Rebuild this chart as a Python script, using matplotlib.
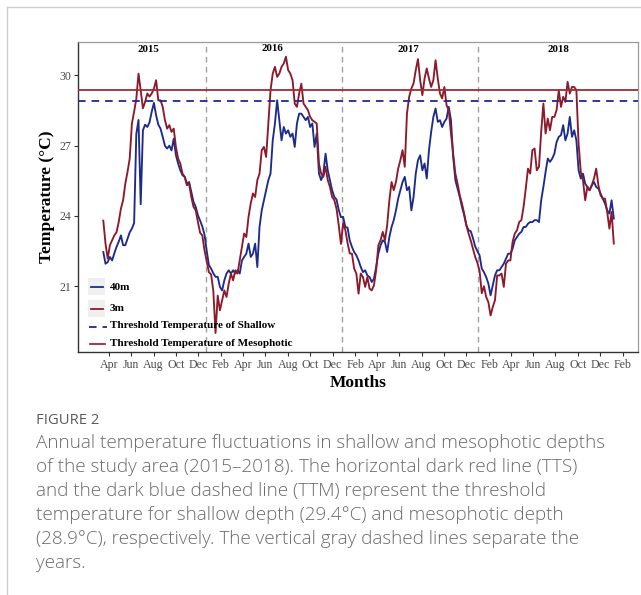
import matplotlib
matplotlib.use('Agg')
import matplotlib.pyplot as plt
import pandas as pd
from matplotlib.patches import Rectangle
from matplotlib.lines import Line2D

# ---------------- data (6-day sampling) ----------------
start_date = '2015-03-17'
step_days = 6

temp_40m = [
    22.46, 21.96, 22.03, 22.25, 22.10, 22.40, 22.68, 22.90, 23.17, 22.75,
    22.75, 23.03, 23.30, 23.46, 23.70, 27.50, 28.10, 24.50, 27.66, 27.90,
    27.80, 28.00, 28.45, 28.83, 28.30, 27.90, 27.73, 27.38, 27.00, 26.88,
    27.00, 26.80, 27.30, 26.60, 26.24, 25.95, 25.74, 25.67, 25.38, 25.45,
    25.03, 24.60, 24.39, 24.03, 23.80, 23.55, 23.20, 22.50, 21.90, 21.75,
    21.55, 21.40, 21.40, 20.97, 20.82, 21.25, 21.54, 21.68, 21.54, 21.68,
    21.54, 21.68, 21.54, 22.10, 22.25, 22.39, 22.82, 22.25, 22.39, 22.82,
    21.82, 23.53, 24.24, 24.67, 25.10, 25.53, 25.81, 27.23, 27.95, 28.94,
    28.09, 27.23, 27.80, 27.52, 27.66, 27.38, 27.52, 26.95, 27.95, 28.37,
    28.37, 28.23, 28.09, 28.23, 27.80, 27.95, 26.95, 27.52, 25.81, 25.53,
    25.81, 26.66, 25.95, 25.53, 25.10, 24.81, 24.70, 24.25, 23.95, 23.96,
    23.53, 23.50, 22.95, 22.68, 22.46, 22.32, 22.10, 21.82, 21.60, 21.68,
    21.46, 21.39, 21.18, 21.32, 21.82, 22.39, 22.75, 22.96, 22.89, 22.46,
    23.10, 23.53, 23.82, 24.24, 24.74, 25.10, 25.45, 25.67, 25.10, 25.24,
    24.24, 24.81, 25.81, 26.38, 26.59, 25.95, 26.24, 25.60, 26.81, 27.59,
    28.23, 28.59, 28.02, 28.09, 27.80, 28.02, 28.16, 28.66, 28.09, 26.52,
    25.53, 25.17, 24.81, 24.39, 24.03, 23.60, 23.39, 23.35, 23.05, 22.70,
    22.50, 22.32, 21.75, 21.60, 21.39, 21.11, 20.61, 21.04, 21.46, 21.68,
    21.68, 21.82, 21.96, 22.18, 22.39, 22.39, 22.60, 22.96, 23.10, 23.24,
    23.32, 23.53, 23.53, 23.67, 23.74, 23.74, 23.82, 23.82, 23.74, 24.67,
    25.24, 25.88, 26.45, 26.31, 26.45, 26.66, 27.16, 27.38, 27.45, 27.88,
    27.23, 27.52, 28.23, 27.38, 27.66, 27.23, 25.95, 25.60, 25.81, 25.38,
    25.24, 25.10, 25.31, 25.45, 25.24, 25.17, 24.95, 24.74, 24.53, 24.24,
    24.10, 24.67, 23.89,
]

temp_3m = [
    23.80, 22.82, 22.18, 22.75, 22.96, 23.17, 23.30, 23.74, 24.31, 24.67,
    25.38, 25.88, 26.45, 27.95, 28.45, 29.00, 30.08, 29.37, 28.60, 28.87,
    29.23, 29.10, 29.23, 29.44, 29.80, 28.94, 28.94, 28.66, 28.10, 27.73,
    27.88, 27.59, 27.73, 26.95, 26.45, 26.24, 25.81, 25.67, 25.31, 25.38,
    24.81, 24.39, 24.24, 23.74, 23.28, 23.17, 22.53, 22.06, 21.60, 21.50,
    20.80, 19.00, 20.60, 19.97, 20.40, 20.82, 20.54, 21.11, 21.54, 21.25,
    21.68, 21.54, 22.10, 22.68, 23.25, 23.10, 23.96, 24.53, 24.96, 24.81,
    25.53, 25.81, 26.81, 26.95, 26.52, 27.95, 29.37, 30.08, 30.37, 29.94,
    30.08, 30.37, 30.51, 30.80, 30.23, 30.08, 29.80, 28.80, 28.66, 29.23,
    29.65, 28.80, 28.66, 28.52, 28.23, 28.09, 28.02, 27.95, 26.24, 25.81,
    25.67, 26.10, 25.53, 25.24, 24.81, 24.67, 24.30, 23.60, 22.80, 23.70,
    23.40, 22.85, 22.40, 22.39, 21.75, 21.54, 20.68, 21.54, 21.39, 20.97,
    21.39, 20.90, 20.82, 21.04, 21.68, 22.75, 22.96, 23.32, 22.96, 23.60,
    24.67, 25.45, 25.10, 25.45, 26.02, 26.38, 26.81, 26.10, 28.37, 29.09,
    29.44, 29.66, 30.23, 30.70, 29.80, 29.16, 29.87, 30.30, 29.87, 29.51,
    29.80, 30.65, 29.87, 29.23, 29.02, 29.51, 28.73, 28.52, 27.52, 26.66,
    25.81, 25.38, 24.88, 24.53, 24.10, 23.60, 23.25, 22.95, 22.60, 22.25,
    22.00, 21.65, 20.70, 21.00, 20.54, 20.32, 19.75, 20.11, 20.40, 21.46,
    21.46, 21.54, 20.97, 21.96, 22.10, 22.10, 22.89, 23.25, 23.39, 23.74,
    23.82, 24.39, 25.17, 26.02, 25.81, 26.81, 26.88, 25.95, 26.10, 27.59,
    28.80, 27.52, 28.16, 27.66, 28.23, 28.23, 28.52, 29.37, 28.66, 29.09,
    28.87, 29.73, 29.23, 29.51, 29.51, 29.37, 27.09, 25.88, 25.53, 24.67,
    25.24, 25.10, 25.31, 25.60, 26.02, 25.31, 24.88, 24.74, 24.74, 24.17,
    23.46, 24.17, 22.82,
]

threshold_shallow_legend = 28.9     # blue dashed
threshold_meso_legend = 29.4        # red solid
year_labels = ['2015', '2016', '2017', '2018']
year_label_dates = ['2015-07-17', '2016-06-19', '2017-06-25', '2018-08-08']
year_label_y = [31.12, 31.16, 31.12, 31.12]
year_sep_dates = ['2015-12-21', '2016-12-26', '2018-01-02']
y_ticks = [21, 24, 27, 30]
month_tick_start = '2015-04-01'
month_tick_end = '2019-02-01'
legend_labels = ['40m', '3m', 'Threshold Temperature of Shallow',
                 'Threshold Temperature of Mesophotic']
caption_title = 'FIGURE 2'
caption_lines = [
    'Annual temperature fluctuations in shallow and mesophotic depths',
    'of the study area (2015\u20132018). The horizontal dark red line (TTS)',
    'and the dark blue dashed line (TTM) represent the threshold',
    'temperature for shallow depth (29.4\u00b0C) and mesophotic depth',
    '(28.9\u00b0C), respectively. The vertical gray dashed lines separate the',
    'years.',
]

# ---------------- styling ----------------
C40 = '#1D2C8C'
C3 = '#8C1A2B'
CTHR_RED = '#9E2B36'
CTHR_BLUE = '#1F2A8A'
SERIF = ['Liberation Serif', 'DejaVu Serif']
SANS = ['Open Sans', 'DejaVu Sans']

W, H = 641, 595
fig = plt.figure(figsize=(W / 100, H / 100), dpi=100)

# outer light frame
fig.add_artist(Line2D([6.5 / W, 1.0], [1 - 6.5 / H, 1 - 6.5 / H], color='#cfcfcf', lw=1.0))
fig.add_artist(Line2D([6.5 / W, 6.5 / W], [0.0, 1 - 6.5 / H], color='#cfcfcf', lw=1.0))

ax = fig.add_axes([78 / W, 1 - 352 / H, 560 / W, 310 / H])

dates = pd.date_range(start_date, periods=len(temp_40m), freq=f'{step_days}D')

ax.plot(dates, temp_40m, color=C40, lw=1.35, zorder=3)
ax.plot(dates, temp_3m, color=C3, lw=1.35, zorder=4)

ax.axhline(threshold_meso_legend, color=CTHR_RED, lw=1.3, zorder=5)
ax.axhline(threshold_shallow_legend, color=CTHR_BLUE, lw=1.3, ls=(0, (4.2, 3.3)), zorder=5)

for d in year_sep_dates:
    ax.axvline(pd.Timestamp(d), color='#a0a0a0', lw=1.0, ls=(0, (4, 3.2)), zorder=2)

for lab, d, yy in zip(year_labels, year_label_dates, year_label_y):
    ax.text(pd.Timestamp(d), yy, lab, ha='center', va='center', fontsize=7.8,
            fontweight='bold', family=SERIF, color='black', zorder=6)

ax.set_xlim(pd.Timestamp('2015-01-07'), pd.Timestamp('2019-03-14'))
ax.set_ylim(18.19, 31.43)

month_ticks = pd.date_range(month_tick_start, month_tick_end, freq='2MS')
ax.set_xticks(month_ticks)
ax.set_xticklabels([m.strftime('%b') for m in month_ticks])
ax.set_yticks(y_ticks)
ax.set_yticklabels([str(v) for v in y_ticks])
ax.tick_params(axis='both', direction='out', length=3, width=0.8, color='#333333',
               labelsize=8.6, labelcolor='#4d4d4d', pad=2)
for lab in ax.get_xticklabels() + ax.get_yticklabels():
    lab.set_family(SERIF)

for side in ['left', 'bottom']:
    ax.spines[side].set_color('#333333')
    ax.spines[side].set_linewidth(1.0)
for side in ['top', 'right']:
    ax.spines[side].set_color('#9a9a9a')
    ax.spines[side].set_linewidth(0.9)

ax.set_ylabel('Temperature (\u00b0C)', fontsize=12.5, fontweight='bold', family=SERIF, labelpad=3)
ax.set_xlabel('Months', fontsize=12.5, fontweight='bold', family=SERIF, labelpad=3)

# ---------------- legend (ggplot style, drawn in axes fraction) ----------------
def fx(px):
    return (px - 78) / 560.0

def fy(py):
    return (352 - py) / 310.0

tr = ax.transAxes
ax.add_patch(Rectangle((fx(88.3), fy(295)), fx(105) - fx(88.3), fy(278) - fy(295),
                       transform=tr, facecolor='#f0f0f0', edgecolor='none', zorder=6))
ax.add_patch(Rectangle((fx(88.3), fy(316.5)), fx(105) - fx(88.3), fy(300) - fy(316.5),
                       transform=tr, facecolor='#f0f0f0', edgecolor='none', zorder=6))
ax.add_line(Line2D([fx(90.5), fx(103)], [fy(287), fy(287)], transform=tr, color=C40, lw=1.3, zorder=7))
ax.add_line(Line2D([fx(90.5), fx(103)], [fy(308.5), fy(308.5)], transform=tr, color=C3, lw=1.3, zorder=7))
ax.add_line(Line2D([fx(88.5), fx(106.5)], [fy(327), fy(327)], transform=tr, color=CTHR_BLUE, lw=1.3,
                   ls=(0, (4.2, 3.3)), zorder=7))
ax.add_line(Line2D([fx(90), fx(105)], [fy(344), fy(344)], transform=tr, color=CTHR_RED, lw=1.3, zorder=7))
for lab, py in zip(legend_labels, [287, 308.5, 326, 343.5]):
    ax.text(fx(110), fy(py), lab, transform=tr, ha='left', va='center', fontsize=8.0,
            fontweight='bold', family=SERIF, color='black', zorder=8)

# ---------------- caption ----------------
fig.text(36 / W, 1 - 420 / H, caption_title, ha='left', va='center', fontsize=10.6,
         family=SANS, color='#5a5a5a')
for i, line in enumerate(caption_lines):
    fig.text(36 / W, 1 - (443 + 24 * i) / H, line, ha='left', va='center', fontsize=13.6,
             family=SANS, color='#6a6a6a', fontweight='light')

fig.savefig('out.png', dpi=100)
